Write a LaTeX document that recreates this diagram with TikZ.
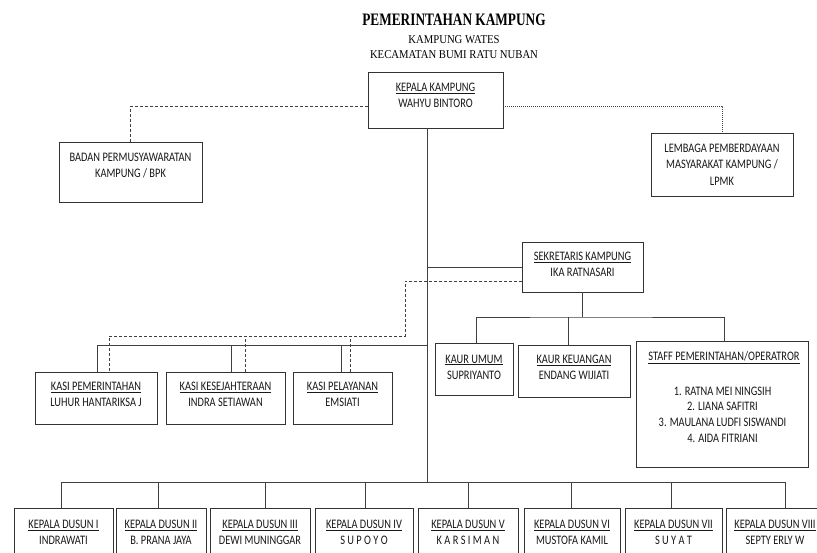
\documentclass[tikz,border=0pt]{standalone}
\usepackage{fontspec}
\setmainfont[FakeStretch=0.8]{Carlito}
\newfontfamily\titlefont[FakeStretch=0.76]{Liberation Serif}
\newfontfamily\subfont[FakeStretch=0.89]{Liberation Serif}
\newcommand\orgbox[5]{\node[box, minimum width={#4-#2}, minimum height={#5-#3}] (#1) at ({(#2+#4)/2},{(#3+#5)/2}) {};}
\begin{document}
\begin{tikzpicture}[x=1pt,y=-1pt,
  box/.style={draw=black!80, line width=0.9pt, inner sep=0pt, outer sep=0pt},
  txt/.style={font=\fontsize{13}{16}\selectfont, align=center, inner sep=0pt, anchor=north, text=black!90},
  conn/.style={draw=black!75, line width=0.9pt},
  dsh/.style={conn, dash pattern=on 3pt off 2pt},
  dotl/.style={conn, dash pattern=on 1pt off 1pt}]
\useasboundingbox (0,0) rectangle (817,552);
\clip (0,0) rectangle (817,552);
\fill[white] (0,0) rectangle (817,552);

% title
\node[font=\titlefont\bfseries\fontsize{17.5}{20}\selectfont, anchor=base, inner sep=0pt] (title) at (454,25) {PEMERINTAHAN KAMPUNG};
\node[font=\subfont\fontsize{12}{14}\selectfont, anchor=base, inner sep=0pt] (sub1) at (454,43) {KAMPUNG WATES};
\node[font=\subfont\fontsize{12}{14}\selectfont, anchor=base, inner sep=0pt] (sub2) at (454,58) {KECAMATAN BUMI RATU NUBAN};

% boxes
\orgbox{kk}{368}{72}{503}{128}
\orgbox{bpk}{59}{142}{202}{202}
\orgbox{lpmk}{651}{133}{793}{196}
\orgbox{sek}{522}{242}{643}{292}
\orgbox{ku}{435}{343}{513}{395}
\orgbox{kkeu}{518}{345}{630}{397}
\orgbox{st}{636}{341}{808}{467}
\orgbox{k1}{35}{372}{157}{424}
\orgbox{k2}{166}{372}{285}{424}
\orgbox{k3}{293}{372}{392}{424}
\orgbox{d1}{14}{508}{113}{570}
\orgbox{d2}{116}{508}{206}{570}
\orgbox{d3}{210}{508}{310}{570}
\orgbox{d4}{315}{508}{413}{570}
\orgbox{d5}{418}{508}{518}{570}
\orgbox{d6}{524}{508}{620}{570}
\orgbox{d7}{625}{508}{722}{570}
\orgbox{d8}{726}{508}{824}{570}

% texts
\node[txt] (kkt) at (435.5,82.6) {\underline{KEPALA KAMPUNG}\\WAHYU BINTORO};
\node[txt] (bpkt) at (130.5,152.6) {BADAN PERMUSYAWARATAN\\KAMPUNG / BPK};
\node[txt, font=\fontsize{13}{16.5}\selectfont] (lpmkt) at (722,143.6) {LEMBAGA PEMBERDAYAAN\\MASYARAKAT KAMPUNG /\\LPMK};
\node[txt] (sekt) at (582.5,251.6) {\underline{SEKRETARIS KAMPUNG}\\IKA RATNASARI};
\node[txt] (kut) at (474,354.6) {\underline{KAUR UMUM}\\SUPRIYANTO};
\node[txt] (kkeut) at (574,354.6) {\underline{KAUR KEUANGAN}\\ENDANG WIJIATI};
\node[txt] (stt) at (724,351.6) {\underline{STAFF PEMERINTAHAN/OPERATROR}};
\node[txt, font=\fontsize{13}{15.7}\selectfont] (stl) at (722.5,386.6) {1. RATNA MEI NINGSIH\\2. LIANA SAFITRI\\3. MAULANA LUDFI SISWANDI\\4. AIDA FITRIANI};
\node[txt] (k1t) at (96,381.6) {\underline{KASI PEMERINTAHAN}\\LUHUR HANTARIKSA J};
\node[txt] (k2t) at (225.5,381.6) {\underline{KASI KESEJAHTERAAN}\\INDRA SETIAWAN};
\node[txt] (k3t) at (342.5,381.6) {\underline{KASI PELAYANAN}\\EMSIATI};
\node[txt] (d1t) at (63.5,519.6) {\underline{KEPALA DUSUN I}\\INDRAWATI};
\node[txt] (d2t) at (161,519.6) {\underline{KEPALA DUSUN II}\\B. PRANA JAYA};
\node[txt] (d3t) at (260,519.6) {\underline{KEPALA DUSUN III}\\DEWI MUNINGGAR};
\node[txt] (d4t) at (364,519.6) {\underline{KEPALA DUSUN IV}\\S U P O Y O};
\node[txt] (d5t) at (468,519.6) {\underline{KEPALA DUSUN V}\\K A R S I M A N};
\node[txt] (d6t) at (572,519.6) {\underline{KEPALA DUSUN VI}\\MUSTOFA KAMIL};
\node[txt] (d7t) at (673.5,519.6) {\underline{KEPALA DUSUN VII}\\S U Y A T};
\node[txt] (d8t) at (775,519.6) {\underline{KEPALA DUSUN VIII}\\SEPTY ERLY W};

% connectors
\coordinate (spine) at (427,482);
\draw[conn] (kk.south -| spine) -- (spine);
\draw[dsh] ([yshift=-6pt]kk.west) -| (bpk.north);
\draw[dotl] ([yshift=-6pt]kk.east) -| (lpmk.north);
\draw[conn] (sek.west) -- (sek.west -| spine);

\coordinate (dj) at (405,336);
\draw[dsh] ([yshift=-14pt]sek.west) -| (dj) -| ([xshift=13pt]k1.north);
\draw[dsh] ([xshift=19.5pt]k2.north) -- ++(0,-36);
\draw[dsh] ([xshift=7.5pt]k3.north) -- ++(0,-36);

\coordinate (kb) at (427,345);
\draw[conn] (kb) -| ([xshift=1pt]k1.north);
\draw[conn] ([xshift=5.5pt]k2.north) -- ++(0,-27);
\draw[conn] ([xshift=-1.5pt]k3.north) -- ++(0,-27);

\coordinate (kj) at (582,317);
\draw[conn] (sek.south -| kj) -- (kj);
\draw[conn] ([xshift=2pt]ku.north) |- (kj) -| ([xshift=2pt]st.north);
\draw[conn] ([xshift=-6pt]kkeu.north) -- ++(0,-28);

\draw[conn] ([xshift=-2.5pt]d1.north) -- ++(0,-26) -| ([xshift=10pt]d8.north);
\draw[conn] ([xshift=-3pt]d2.north) -- ++(0,-26);
\draw[conn] ([xshift=5pt]d3.north) -- ++(0,-26);
\draw[conn] ([xshift=1pt]d4.north) -- ++(0,-26);
\draw[conn] (d5.north) -- ++(0,-26);
\draw[conn] ([xshift=-1pt]d6.north) -- ++(0,-26);
\draw[conn] ([xshift=-2.5pt]d7.north) -- ++(0,-26);
\end{tikzpicture}
\end{document}
